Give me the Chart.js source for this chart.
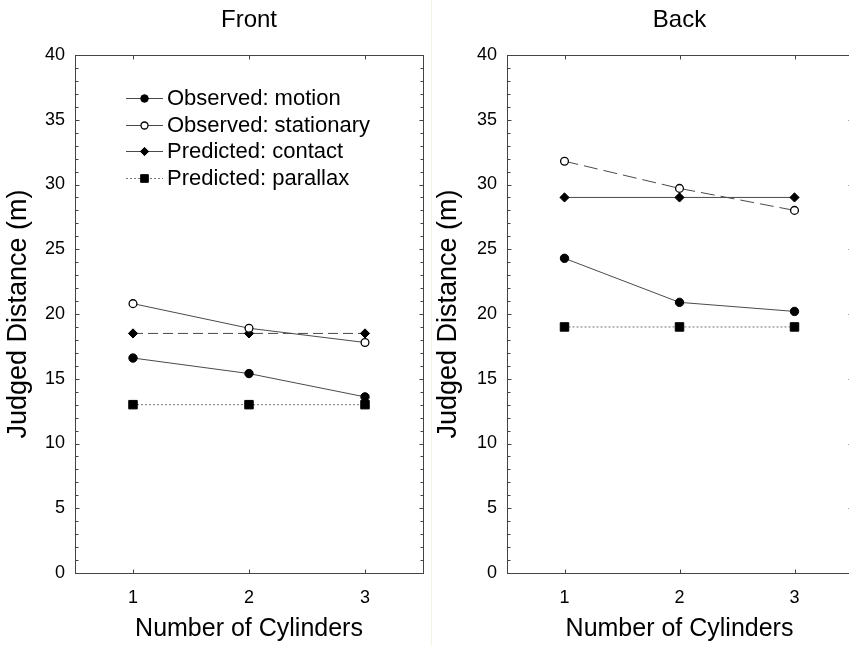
<!DOCTYPE html>
<html>
<head>
<meta charset="utf-8">
<script src="https://cdn.jsdelivr.net/npm/chart.js@4.4.1/dist/chart.umd.min.js"></script>
<style>
  html, body { margin: 0; padding: 0; background: #fff; overflow: hidden; }
  #wrap { position: relative; width: 849px; height: 646px; overflow: hidden; }
  #front { position: absolute; left: 0; top: 0; }
  #back { position: absolute; left: 430px; top: 0; }
  #sep { position: absolute; left: 431px; top: 0; width: 1px; height: 646px; background: #f7f3e3; }
</style>
</head>
<body>
<div id="wrap">
  <div id="sep"></div>
  <canvas id="front" width="430" height="646"></canvas>
  <canvas id="back" width="430" height="646"></canvas>
</div>
<script>
const categories = ['1', '2', '3'];
const seriesNames = ['Observed: motion', 'Observed: stationary', 'Predicted: contact', 'Predicted: parallax'];

// Front panel
const frontMotion = [16.6, 15.4, 13.6];
const frontStationary = [20.8, 18.9, 17.8];
const frontContact = [18.5, 18.5, 18.5];
const frontParallax = [13.0, 13.0, 13.0];

// Back panel
const backMotion = [24.3, 20.9, 20.2];
const backStationary = [31.8, 29.7, 28.0];
const backContact = [29.0, 29.0, 29.0];
const backParallax = [19.0, 19.0, 19.0];

const yMin = 0, yMax = 40, yStep = 5, yMinorStep = 1;

const FONT = "'Liberation Sans', Arial, Helvetica, sans-serif";
Chart.defaults.font.family = FONT;
Chart.defaults.color = '#000';

// marker looks, one per series
const markers = [
  { pointStyle: 'circle', radius: 4.2, fill: '#000', width: 1 },
  { pointStyle: 'circle', radius: 3.9, fill: '#fff', width: 1.3 },
  { pointStyle: 'rectRot', radius: 4.6, fill: '#000', width: 1 },
  { pointStyle: 'rect', radius: 6, fill: '#000', width: 1 }
];
const legendDash = [[], [], [], [2, 2]];

// box round the plot, inward ticks and the panel title
const framePlugin = {
  id: 'frame',
  beforeDatasetsDraw(chart, args, opts) {
    const { ctx, chartArea: a, scales } = chart;
    const L = Math.round(a.left) + 0.5, R = Math.round(a.right) + 0.5;
    const T = Math.round(a.top) + 0.5, B = Math.round(a.bottom) + 0.5;
    ctx.save();
    ctx.strokeStyle = '#444';
    ctx.lineWidth = 1;
    ctx.strokeRect(L, T, R - L, B - T);
    ctx.beginPath();
    for (let v = yMin; v <= yMax; v += yMinorStep) {
      const y = Math.round(scales.y.getPixelForValue(v)) + 0.5;
      const len = v % yStep === 0 ? 4 : 3;
      ctx.moveTo(L, y); ctx.lineTo(L + len, y);
      ctx.moveTo(R, y); ctx.lineTo(R - len, y);
    }
    categories.forEach((c, i) => {
      const x = Math.round(scales.x.getPixelForValue(i)) + 0.5;
      ctx.moveTo(x, B); ctx.lineTo(x, B - 4);
      ctx.moveTo(x, T); ctx.lineTo(x, T + 4);
    });
    ctx.stroke();

    ctx.fillStyle = '#000';
    ctx.font = '24px ' + FONT;
    ctx.textAlign = 'center';
    ctx.textBaseline = 'alphabetic';
    ctx.fillText(opts.text, (a.left + a.right) / 2, 27);
    ctx.restore();
  }
};

// legend drawn inside the front panel
const legendPlugin = {
  id: 'innerLegend',
  afterDatasetsDraw(chart, args, opts) {
    if (!opts.show) return;
    const { ctx } = chart;
    const x0 = 126, x1 = 163, tx = 167, y0 = 98, dy = 26.7;
    ctx.save();
    chart.data.datasets.forEach((ds, i) => {
      const y = Math.round(y0 + i * dy);
      ctx.beginPath();
      ctx.setLineDash(legendDash[i]);
      ctx.strokeStyle = ds.borderColor;
      ctx.lineWidth = 1;
      ctx.moveTo(x0, y + 0.5); ctx.lineTo(x1, y + 0.5);
      ctx.stroke();
      ctx.setLineDash([]);
      ctx.fillStyle = ds.pointBackgroundColor;
      ctx.strokeStyle = '#000';
      ctx.lineWidth = ds.pointBorderWidth;
      Chart.helpers.drawPoint(ctx, { pointStyle: ds.pointStyle, radius: ds.pointRadius * 0.9, borderWidth: ds.pointBorderWidth }, (x0 + x1) / 2, y + 0.5);
      ctx.fillStyle = '#000';
      ctx.font = '22px ' + FONT;
      ctx.textAlign = 'left';
      ctx.textBaseline = 'middle';
      ctx.fillText(ds.label, tx, y + 1);
    });
    ctx.restore();
  }
};

function buildSets(values, dashes) {
  return values.map((vals, i) => ({
    label: seriesNames[i],
    data: vals,
    borderColor: i === 3 ? '#777' : '#4a4a4a',
    borderWidth: 1,
    borderDash: dashes[i],
    pointStyle: markers[i].pointStyle,
    pointRadius: markers[i].radius,
    pointBackgroundColor: markers[i].fill,
    pointBorderColor: '#000',
    pointBorderWidth: markers[i].width,
    fill: false,
    tension: 0
  }));
}

function makeChart(id, title, values, dashes, axisWidth, padRight, showLegend) {
  return new Chart(document.getElementById(id), {
    type: 'line',
    data: { labels: categories, datasets: buildSets(values, dashes) },
    plugins: [framePlugin, legendPlugin],
    options: {
      responsive: false,
      animation: false,
      layout: { padding: { left: 0, right: padRight, top: 55, bottom: 0 } },
      plugins: {
        legend: { display: false },
        tooltip: { enabled: false },
        frame: { text: title },
        innerLegend: { show: showLegend }
      },
      scales: {
        x: {
          type: 'category',
          offset: true,
          grid: { display: false, drawTicks: false },
          border: { display: false },
          ticks: { color: '#000', font: { size: 18 }, padding: 14 },
          title: { display: true, text: 'Number of Cylinders', color: '#000', font: { size: 25 }, padding: { top: 0, bottom: 2 } },
          afterFit: s => { s.height = 73; }
        },
        y: {
          min: yMin,
          max: yMax,
          grid: { display: false, drawTicks: false },
          border: { display: false },
          ticks: { stepSize: yStep, color: '#000', font: { size: 18 }, padding: 10 },
          title: { display: true, text: 'Judged Distance (m)', color: '#000', font: { size: 27 }, padding: { top: 2, bottom: 0 } },
          afterFit: s => { s.width = axisWidth; }
        }
      }
    }
  });
}

makeChart('front', 'Front',
  [frontMotion, frontStationary, frontContact, frontParallax],
  [[], [], [10, 5], [2, 2]], 75, 7, true);

makeChart('back', 'Back',
  [backMotion, backStationary, backContact, backParallax],
  [[], [14, 6], [], [2, 2]], 77, 8, false);
</script>
</body>
</html>
